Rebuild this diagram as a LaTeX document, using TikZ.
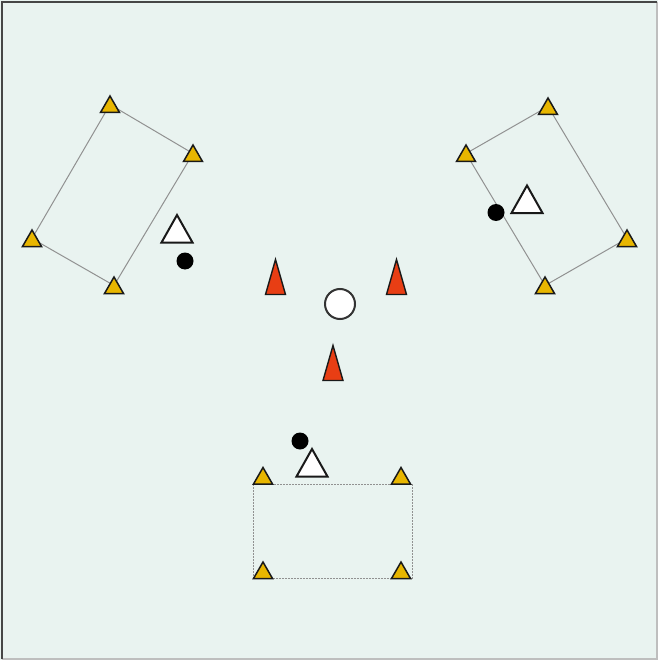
\documentclass[tikz,border=0pt]{standalone}
\usetikzlibrary{calc}
\definecolor{bg}{RGB}{233,243,240}
\definecolor{coney}{RGB}{232,182,0}
\definecolor{coner}{RGB}{232,62,20}
\definecolor{lineg}{RGB}{145,145,145}
\definecolor{frameD}{RGB}{70,70,70}
\definecolor{frameL}{RGB}{190,190,190}
\tikzset{
  ytri/.pic={\draw[fill=coney,draw=black!90,line width=1.5pt,line join=miter] (-9.5,8) -- (0,-8.5) -- (9.5,8) -- cycle;},
  wtri/.pic={\draw[fill=white,draw=black!90,line width=2pt,line join=miter] (-15.5,13.5) -- (0,-14) -- (15.5,13.5) -- cycle;},
  rcone/.pic={\draw[fill=coner,draw=black!90,line width=1.4pt,line join=miter] (-10,17.5) -- (0,-17.5) -- (10,17.5) -- cycle;},
  player/.style={circle,fill=black,inner sep=0pt,minimum size=17pt},
  ballnode/.style={circle,fill=white,draw=black!80,line width=2pt,inner sep=0pt,minimum size=30pt},
  gridline/.style={draw=lineg,line width=1pt},
  gridlinedash/.style={draw=lineg,line width=1pt,dash pattern=on 2pt off 1pt}
}
\begin{document}
\begin{tikzpicture}[x=1pt,y=-1pt]
\useasboundingbox (0,0) rectangle (658,660);
\fill[bg] (0,0) rectangle (658,660);
\draw[frameL,line width=2pt] (2,658.5) -- (656.5,658.5) -- (656.5,2);
\draw[frameD,line width=2.5pt] (2,659) -- (2,2) -- (657,2);
% left grid
\coordinate (A1) at (110,104.5);
\coordinate (A2) at (193,153.5);
\coordinate (A3) at (114,285.5);
\coordinate (A4) at (32,238.5);
\draw[gridline] (A1) -- (A2) -- (A3) -- (A4) -- cycle;
% right grid
\coordinate (B1) at (548,106.5);
\coordinate (B2) at (627,238.5);
\coordinate (B3) at (545,285.5);
\coordinate (B4) at (466,153.5);
\draw[gridline] (B1) -- (B2) -- (B3) -- (B4) -- cycle;
% bottom grid
\coordinate (R1) at (253,484);
\coordinate (R2) at (412,484);
\coordinate (R3) at (412,578);
\coordinate (R4) at (253,578);
\draw[gridlinedash] (R1) -- (R2) -- (R3) -- (R4) -- cycle;
\coordinate (C1) at (263,476);
\coordinate (C2) at (401,476);
\coordinate (C3) at (401,570.5);
\coordinate (C4) at (263,570.5);
% cones
\foreach \p in {A1,A2,A3,A4,B1,B2,B3,B4,C1,C2,C3,C4} {\pic at (\p) {ytri};}
% red cones
\coordinate (K1) at (275.5,277);
\coordinate (K2) at (396.5,277);
\coordinate (K3) at (333,363);
\foreach \p in {K1,K2,K3} {\pic at (\p) {rcone};}
\node[ballnode] (ball) at (340,304) {};
% white triangles
\coordinate (W1) at (177,229);
\coordinate (W2) at (527,199.5);
\coordinate (W3) at (312,463);
\foreach \p in {W1,W2,W3} {\pic at (\p) {wtri};}
% players
\node[player] (P1) at (185,261) {};
\node[player] (P2) at (496,212.5) {};
\node[player] (P3) at (300,441) {};
\end{tikzpicture}
\end{document}
